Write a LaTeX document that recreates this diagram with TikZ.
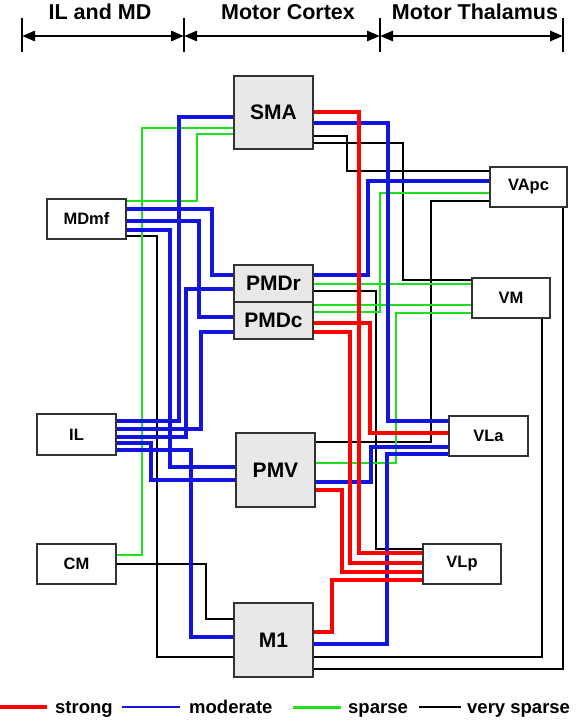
\documentclass[tikz,border=0pt]{standalone}
\usepackage{fontspec}
\setmainfont{Liberation Sans}
\usetikzlibrary{arrows.meta}
\definecolor{cred}{RGB}{255,0,0}
\definecolor{cblue}{RGB}{20,20,225}
\definecolor{cgreen}{RGB}{30,225,30}
\definecolor{boxgray}{RGB}{232,232,232}
\definecolor{edgec}{RGB}{50,50,50}
\pgfdeclarelayer{bg}
\pgfsetlayers{bg,main}
\begin{document}
\begin{tikzpicture}[x=1pt,y=-1pt,
 gbox/.style={draw=edgec,line width=1.4pt,fill=boxgray,inner sep=0pt,outer sep=0pt,minimum width=79pt,font=\fontsize{21}{21}\selectfont\bfseries},
 wbox/.style={draw=edgec,line width=1.4pt,fill=white,inner sep=0pt,outer sep=0pt,minimum width=79pt,minimum height=40pt,font=\fontsize{16.5}{16.5}\selectfont\bfseries},
 lstrong/.style={draw=cred,line width=4.8pt},
 lmod/.style={draw=cblue,line width=3.2pt},
 lsparse/.style={draw=cgreen,line width=2.8pt},
 lvs/.style={draw=black,line width=1.4pt},
 hdr/.style={font=\fontsize{21.5}{21.5}\selectfont\bfseries,anchor=base},
 lgd/.style={font=\fontsize{18.5}{18.5}\selectfont\bfseries,anchor=base west,inner sep=0pt},
 hdrarrow/.style={line width=2.8pt,{Triangle[length=13pt,width=10pt]}-{Triangle[length=13pt,width=10pt]}},
]
\useasboundingbox (0,0) rectangle (578,726);

% header
\foreach \x/\n in {22/t1,184/t2,380/t3,563/t4}{
  \coordinate (\n) at (\x,36);
  \coordinate (\n a) at (\x,18);
  \coordinate (\n b) at (\x,52);
  \draw[line width=1.4pt] (\n a) -- (\n b);
}
\draw[hdrarrow] (t1) -- (t2);
\draw[hdrarrow] (t2) -- (t3);
\draw[hdrarrow] (t3) -- (t4);
\node[hdr] (h1) at (100,19) {IL and MD};
\node[hdr] (h2) at (288,19) {Motor Cortex};
\node[hdr] (h3) at (475,19) {Motor Thalamus};

% boxes
\node[gbox,minimum height=73pt] (SMA) at (273.5,112.5) {SMA};
\node[gbox,minimum height=37pt] (PMDr) at (273.5,283.5) {PMDr};
\node[gbox,minimum height=37pt] (PMDc) at (273.5,320.5) {PMDc};
\node[gbox,minimum height=74pt] (PMV) at (275.5,470) {PMV};
\node[gbox,minimum height=74pt] (M1) at (273.5,640) {M1};
\node[wbox] (MDmf) at (86.5,219) {MDmf};
\node[wbox,minimum height=41pt] (IL) at (76.5,434.5) {IL};
\node[wbox] (CM) at (76.5,564) {CM};
\node[wbox,minimum width=77pt] (VApc) at (528.5,187) {VApc};
\node[wbox,minimum width=78pt] (VM) at (511,298) {VM};
\node[wbox] (VLa) at (488.5,436) {VLa};
\node[wbox,minimum width=78pt] (VLp) at (462,564) {VLp};

\begin{pgfonlayer}{bg}
% very sparse
\draw[lvs] (SMA.east |- 0,136) -| (347,171) -- (VApc.west |- 0,171);
\draw[lvs] (SMA.east |- 0,143) -| (403,280) -- (VM.west |- 0,280);
\draw[lvs] (PMDr.east |- 0,291) -| (376,549) -- (VLp.west |- 0,549);
\draw[lvs] (VApc.west |- 0,201) -| (431,442) -- (PMV.east |- 0,442);
\draw[lvs] (MDmf.east |- 0,236) -| (157,657) -- (M1.west |- 0,657);
\draw[lvs] (CM.east |- 0,564) -| (206,619) -- (M1.west |- 0,619);
\draw[lvs] (M1.east |- 0,657) -| (VM.south -| 542,0);
\draw[lvs] (M1.east |- 0,669) -| (VApc.south -| 563,0);
% sparse
\draw[lsparse] (SMA.west |- 0,128) -| (142,555) -- (CM.east |- 0,555);
\draw[lsparse] (SMA.west |- 0,134) -| (197,201) -- (MDmf.east |- 0,201);
\draw[lsparse] (PMDr.east |- 0,284) -- (VM.west |- 0,284);
\draw[lsparse] (PMDc.east |- 0,305) -- (VM.west |- 0,305);
\draw[lsparse] (PMDc.east |- 0,312) -| (380,193) -- (VApc.west |- 0,193);
\draw[lsparse] (PMV.east |- 0,463) -| (396,313) -- (VM.west |- 0,313);
% moderate
\draw[lmod] (SMA.east |- 0,123) -| (388,421) -- (VLa.west |- 0,421);
\draw[lmod] (SMA.west |- 0,117) -| (179,421) -- (IL.east |- 0,421);
\draw[lmod] (MDmf.east |- 0,209) -| (212,275) -- (PMDr.west |- 0,275);
\draw[lmod] (MDmf.east |- 0,221) -| (199,317) -- (PMDc.west |- 0,317);
\draw[lmod] (MDmf.east |- 0,230) -| (170,467) -- (PMV.west |- 0,467);
\draw[lmod] (PMDr.west |- 0,289) -| (186,437) -- (IL.east |- 0,437);
\draw[lmod] (PMDc.west |- 0,332) -| (201,429) -- (IL.east |- 0,429);
\draw[lmod] (IL.east |- 0,443) -| (151,480) -- (PMV.west |- 0,480);
\draw[lmod] (IL.east |- 0,450) -| (191,637) -- (M1.west |- 0,637);
\draw[lmod] (PMDr.east |- 0,275) -| (368,181) -- (VApc.west |- 0,181);
\draw[lmod] (VLa.west |- 0,447) -| (371,482) -- (PMV.east |- 0,482);
\draw[lmod] (VLa.west |- 0,454) -| (387,644) -- (M1.east |- 0,644);
% strong
\draw[lstrong] (SMA.east |- 0,112) -| (359,553) -- (VLp.west |- 0,553);
\draw[lstrong] (PMDc.east |- 0,323) -| (370,433) -- (VLa.west |- 0,433);
\draw[lstrong] (PMDc.east |- 0,332) -| (350,563) -- (VLp.west |- 0,563);
\draw[lstrong] (PMV.east |- 0,490) -| (342,572) -- (VLp.west |- 0,572);
\draw[lstrong] (M1.east |- 0,632) -| (332,580) -- (VLp.west |- 0,580);
\end{pgfonlayer}

% legend
\coordinate (l1a) at (0,707);   \coordinate (l1b) at (47,707);
\coordinate (l2a) at (122,707); \coordinate (l2b) at (180,707);
\coordinate (l3a) at (293,707); \coordinate (l3b) at (341,707);
\coordinate (l4a) at (419,707); \coordinate (l4b) at (461,707);
\draw[draw=cred,line width=3.2pt] (l1a) -- (l1b);
\draw[draw=cblue,line width=2.6pt] (l2a) -- (l2b);
\draw[draw=cgreen,line width=3pt] (l3a) -- (l3b);
\draw[draw=black,line width=1.4pt] (l4a) -- (l4b);
\node[lgd] (g1) at (55,713) {strong};
\node[lgd] (g2) at (189,713) {moderate};
\node[lgd] (g3) at (348,713) {sparse};
\node[lgd] (g4) at (467,713) {very sparse};
\end{tikzpicture}
\end{document}
